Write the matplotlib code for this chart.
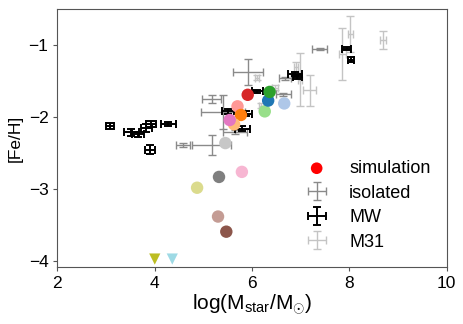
import matplotlib
matplotlib.use('Agg')
import matplotlib.pyplot as plt

plt.rcParams['font.family'] = ['Liberation Sans', 'DejaVu Sans']
plt.rcParams['mathtext.fontset'] = 'custom'
plt.rcParams['mathtext.rm'] = 'Liberation Sans'
plt.rcParams['mathtext.it'] = 'Liberation Sans:italic'
plt.rcParams['font.size'] = 12

# simulated galaxies (circles)
sim_x = [5.45, 5.32, 5.79, 4.87, 5.30, 5.47, 6.66, 6.26, 6.33, 6.36, 5.91,
         5.70, 5.77, 5.63, 5.54]
sim_y = [-2.36, -2.83, -2.76, -2.98, -3.38, -3.59, -1.81, -1.92, -1.77, -1.65, -1.69,
         -1.85, -1.97, -2.10, -2.04]
sim_colors = ['#c7c7c7', '#7f7f7f', '#f7b6d2', '#dbdb8d', '#c49c94', '#8c564b',
              '#aec7e8', '#98df8a', '#1f77b4', '#2ca02c', '#d62728',
              '#ff9896', '#ff7f0e', '#ffbb78', '#e377c2']

# simulated galaxies with upper limits (triangles)
lim_x = [4.00, 4.36]
lim_y = [-3.97, -3.97]
lim_colors = ['#bcbd22', '#9edae5']

# observed: isolated dwarfs
iso_x = [5.92, 5.17, 5.40, 5.17, 4.58, 5.65, 7.39, 6.67, 6.64]
iso_y = [-1.37, -1.75, -1.93, -2.39, -2.39, -2.21, -1.055, -1.46, -1.68]
iso_xerr = [0.31, 0.20, 0.46, 0.40, 0.14, 0.24, 0.15, 0.12, 0.15]
iso_yerr = [0.18, 0.055, 0.24, 0.14, 0.03, 0.03, 0.02, 0.02, 0.02]

# observed: MW satellites
mw_x = [3.08, 3.52, 3.66, 3.83, 3.93, 4.28, 3.90, 5.50, 5.87, 5.80, 6.11,
        6.88, 6.93, 7.94, 8.03]
mw_y = [-2.12, -2.21, -2.24, -2.15, -2.10, -2.10, -2.45, -1.92, -1.95, -2.16, -1.64,
        -1.40, -1.44, -1.05, -1.20]
mw_xerr = [0.09, 0.15, 0.12, 0.12, 0.10, 0.15, 0.10, 0.12, 0.12, 0.15, 0.12,
           0.14, 0.10, 0.10, 0.07]
mw_yerr = [0.04, 0.05, 0.04, 0.05, 0.04, 0.03, 0.06, 0.03, 0.03, 0.03, 0.02,
           0.03, 0.03, 0.02, 0.03]

# observed: M31 satellites
m31_x = [6.10, 6.47, 6.19, 6.90, 6.98, 7.18, 7.85, 8.02, 8.69]
m31_y = [-1.45, -1.59, -1.84, -1.30, -1.48, -1.63, -1.12, -0.84, -0.93]
m31_xerr = [0.05, 0.06, 0.05, 0.04, 0.04, 0.14, 0.07, 0.05, 0.06]
m31_yerr = [0.04, 0.03, 0.04, 0.07, 0.37, 0.21, 0.36, 0.25, 0.13]

fig = plt.figure(figsize=(4.63, 3.24), dpi=100)
ax = fig.add_axes([0.124, 0.176, 0.841, 0.796])

ax.errorbar(m31_x, m31_y, xerr=m31_xerr, yerr=m31_yerr, fmt='none',
            ecolor='#c4c4c4', elinewidth=1, capsize=3, label='M31', zorder=1)
ax.errorbar(iso_x, iso_y, xerr=iso_xerr, yerr=iso_yerr, fmt='none',
            ecolor='#8a8a8a', elinewidth=1, capsize=3, label='isolated', zorder=2)
ax.errorbar(mw_x, mw_y, xerr=mw_xerr, yerr=mw_yerr, fmt='none',
            ecolor='black', elinewidth=1.4, capsize=3, capthick=1.4, label='MW', zorder=3)

ax.scatter(sim_x, sim_y, c=sim_colors, s=80, edgecolors='none', zorder=4)
ax.scatter(lim_x, lim_y, c=lim_colors, marker='v', s=65, edgecolors='none', zorder=4)
# legend handle for simulations
ax.scatter([], [], c='red', s=70, edgecolors='none', label='simulation')

ax.set_xlim(2, 10)
ax.set_ylim(-4.08, -0.5)
ax.set_xticks([2, 4, 6, 8, 10])
ax.set_yticks([-4, -3, -2, -1])
ax.set_xlabel(r'log(M$_{\rm star}$/M$_{\odot}$)', fontsize=15, labelpad=1)
ax.set_ylabel('[Fe/H]', fontsize=12.5)

for s in ax.spines.values():
    s.set_color('#555555')
ax.tick_params(direction='out', length=3, color='#555555', labelsize=12.5)

handles, labels = ax.get_legend_handles_labels()
order = [labels.index(n) for n in ['simulation', 'isolated', 'MW', 'M31']]
ax.legend([handles[i] for i in order], [labels[i] for i in order],
          loc='lower right', frameon=False, fontsize=13, labelspacing=0.42,
          handlelength=1.6, handletextpad=1.0, bbox_to_anchor=(1.0, 0.0))

fig.savefig('out.png', dpi=100)
